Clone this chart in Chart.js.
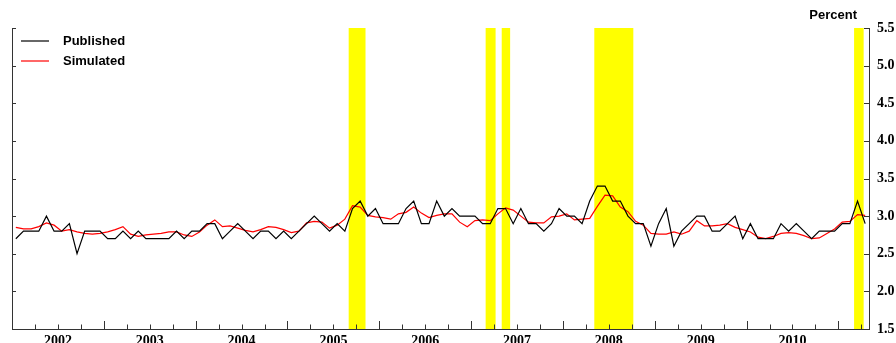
<!DOCTYPE html>
<html>
<head>
<meta charset="utf-8">
<script src="https://cdn.jsdelivr.net/npm/chart.js@4.4.1/dist/chart.umd.min.js"></script>
<style>
  html, body { margin: 0; padding: 0; background: #fff; overflow: hidden; }
  #wrap { width: 896px; height: 343px; overflow: hidden; }
</style>
</head>
<body>
<div id="wrap"><canvas id="chart" width="896" height="356"></canvas></div>
<script>
// monthly, Jan 2002 .. Apr 2011 (index 0 = Jan 2002)
const years = ['2002', '2003', '2004', '2005', '2006', '2007', '2008', '2009', '2010'];

const published = [
  2.7, 2.8, 2.8, 2.8, 3.0, 2.8, 2.8, 2.9, 2.5, 2.8, 2.8, 2.8,
  2.7, 2.7, 2.8, 2.7, 2.8, 2.7, 2.7, 2.7, 2.7, 2.8, 2.7, 2.8,
  2.8, 2.9, 2.9, 2.7, 2.8, 2.9, 2.8, 2.7, 2.8, 2.8, 2.7, 2.8,
  2.7, 2.8, 2.9, 3.0, 2.9, 2.8, 2.9, 2.8, 3.1, 3.2, 3.0, 3.1,
  2.9, 2.9, 2.9, 3.1, 3.2, 2.9, 2.9, 3.2, 3.0, 3.1, 3.0, 3.0,
  3.0, 2.9, 2.9, 3.1, 3.1, 2.9, 3.1, 2.9, 2.9, 2.8, 2.9, 3.1,
  3.0, 3.0, 2.9, 3.2, 3.4, 3.4, 3.2, 3.2, 3.0, 2.9, 2.9, 2.6,
  2.9, 3.1, 2.6, 2.8, 2.9, 3.0, 3.0, 2.8, 2.8, 2.9, 3.0, 2.7,
  2.9, 2.7, 2.7, 2.7, 2.9, 2.8, 2.9, 2.8, 2.7, 2.8, 2.8, 2.8,
  2.9, 2.9, 3.2, 2.9
];

const simulated = [
  2.85, 2.83, 2.83, 2.86, 2.91, 2.88, 2.80, 2.82, 2.79, 2.77, 2.76, 2.77,
  2.79, 2.82, 2.86, 2.76, 2.73, 2.75, 2.76, 2.77, 2.79, 2.79, 2.75, 2.73,
  2.79, 2.88, 2.95, 2.86, 2.87, 2.84, 2.81, 2.79, 2.82, 2.86, 2.85, 2.82,
  2.78, 2.80, 2.91, 2.93, 2.92, 2.84, 2.88, 2.96, 3.14, 3.12, 3.01, 2.99,
  2.98, 2.96, 3.03, 3.05, 3.12, 3.04, 2.98, 3.01, 3.03, 3.03, 2.92, 2.86,
  2.94, 2.95, 2.94, 3.03, 3.11, 3.08, 3.00, 2.92, 2.91, 2.91, 2.99, 3.00,
  3.03, 2.95, 2.96, 2.97, 3.13, 3.28, 3.27, 3.12, 3.06, 2.93, 2.88, 2.77,
  2.76, 2.76, 2.79, 2.76, 2.80, 2.94, 2.87, 2.87, 2.88, 2.90, 2.85, 2.82,
  2.79, 2.72, 2.70, 2.73, 2.77, 2.78, 2.77, 2.74, 2.70, 2.71, 2.77, 2.83,
  2.92, 2.93, 3.02, 3.01
];

// shaded periods, in month-index units
const shaded = [[43.5, 45.7], [61.4, 62.7], [63.5, 64.6], [75.6, 80.7], [109.55, 110.8]];

const yTicksFont = { family: 'Liberation Serif', size: 14, weight: 'bold' };
const axisColor = '#333';

const toPoints = arr => arr.map((v, i) => ({ x: i, y: v }));

const bandsPlugin = {
  id: 'bands',
  beforeDatasetsDraw(chart) {
    const { ctx, chartArea: a, scales: { x } } = chart;
    ctx.save();
    ctx.fillStyle = '#ffff00';
    shaded.forEach(([s, e]) => {
      const x1 = x.getPixelForValue(s);
      const x2 = x.getPixelForValue(e);
      ctx.fillRect(x1, a.top, x2 - x1, a.bottom - a.top);
    });
    ctx.restore();
  }
};

const decorPlugin = {
  id: 'decor',
  afterDraw(chart) {
    const { ctx, chartArea: a, scales: { x, y } } = chart;
    ctx.save();
    ctx.strokeStyle = axisColor;
    ctx.lineWidth = 1;

    // inward ticks on the bottom axis: quarters, years longer
    for (let m = 2.5; m < 111.5; m += 3) {
      const px = Math.round(x.getPixelForValue(m)) + 0.5;
      const len = ((m + 0.5) % 12 === 0) ? 8 : 4.5;
      ctx.beginPath();
      ctx.moveTo(px, a.bottom);
      ctx.lineTo(px, a.bottom - len);
      ctx.stroke();
    }

    // inward ticks on both side axes
    y.ticks.forEach(t => {
      const py = Math.round(y.getPixelForValue(t.value)) + 0.5;
      ctx.beginPath();
      ctx.moveTo(a.right, py);
      ctx.lineTo(a.right - 5, py);
      ctx.moveTo(a.left, py);
      ctx.lineTo(a.left + 4, py);
      ctx.stroke();
    });

    // legend
    ctx.font = 'bold 13px "Liberation Sans"';
    ctx.textBaseline = 'middle';
    ctx.textAlign = 'left';
    chart.data.datasets.forEach((ds, k) => {
      const ly = 41 + k * 20;
      ctx.strokeStyle = ds.borderColor;
      ctx.lineWidth = 1.2;
      ctx.beginPath();
      ctx.moveTo(21, ly);
      ctx.lineTo(49, ly);
      ctx.stroke();
      ctx.fillStyle = '#000';
      ctx.fillText(ds.label, 63, ly);
    });

    // unit label
    ctx.textAlign = 'right';
    ctx.fillText('Percent', a.right - 12, 15);
    ctx.restore();
  }
};

new Chart(document.getElementById('chart'), {
  type: 'line',
  data: {
    datasets: [
      {
        label: 'Published',
        data: toPoints(published),
        borderColor: '#000000',
        borderWidth: 1.2,
        pointRadius: 0,
        tension: 0,
        fill: false
      },
      {
        label: 'Simulated',
        data: toPoints(simulated),
        borderColor: '#ff0000',
        borderWidth: 1.2,
        pointRadius: 0,
        tension: 0,
        fill: false
      }
    ]
  },
  options: {
    responsive: false,
    animation: false,
    devicePixelRatio: 1,
    layout: { padding: { left: 12, top: 28, right: 0, bottom: 0 } },
    scales: {
      x: {
        type: 'linear',
        position: 'bottom',
        min: -0.5,
        max: 111.5,
        grid: { display: false, drawTicks: false },
        border: { display: true, color: axisColor, width: 1 },
        afterBuildTicks: s => { s.ticks = years.map((yr, k) => ({ value: k * 12 + 5.5 })); },
        afterFit: s => { s.height = 27; },
        ticks: {
          autoSkip: false,
          maxRotation: 0,
          padding: 4,
          color: '#000',
          font: yTicksFont,
          callback: (v, i) => years[i]
        }
      },
      y: {
        position: 'right',
        min: 1.5,
        max: 5.5,
        grid: { display: false, drawTicks: false },
        border: { display: true, color: axisColor, width: 1 },
        afterFit: s => { s.width = 27; },
        ticks: {
          stepSize: 0.5,
          padding: 8,
          color: '#000',
          font: yTicksFont,
          callback: v => v.toFixed(1)
        }
      },
      yLeft: {
        position: 'left',
        min: 1.5,
        max: 5.5,
        grid: { display: false, drawTicks: false },
        border: { display: true, color: axisColor, width: 1 },
        ticks: { display: false },
        afterFit: s => { s.width = 0; }
      }
    },
    plugins: {
      legend: { display: false },
      tooltip: { enabled: false }
    }
  },
  plugins: [bandsPlugin, decorPlugin]
});
</script>
</body>
</html>
